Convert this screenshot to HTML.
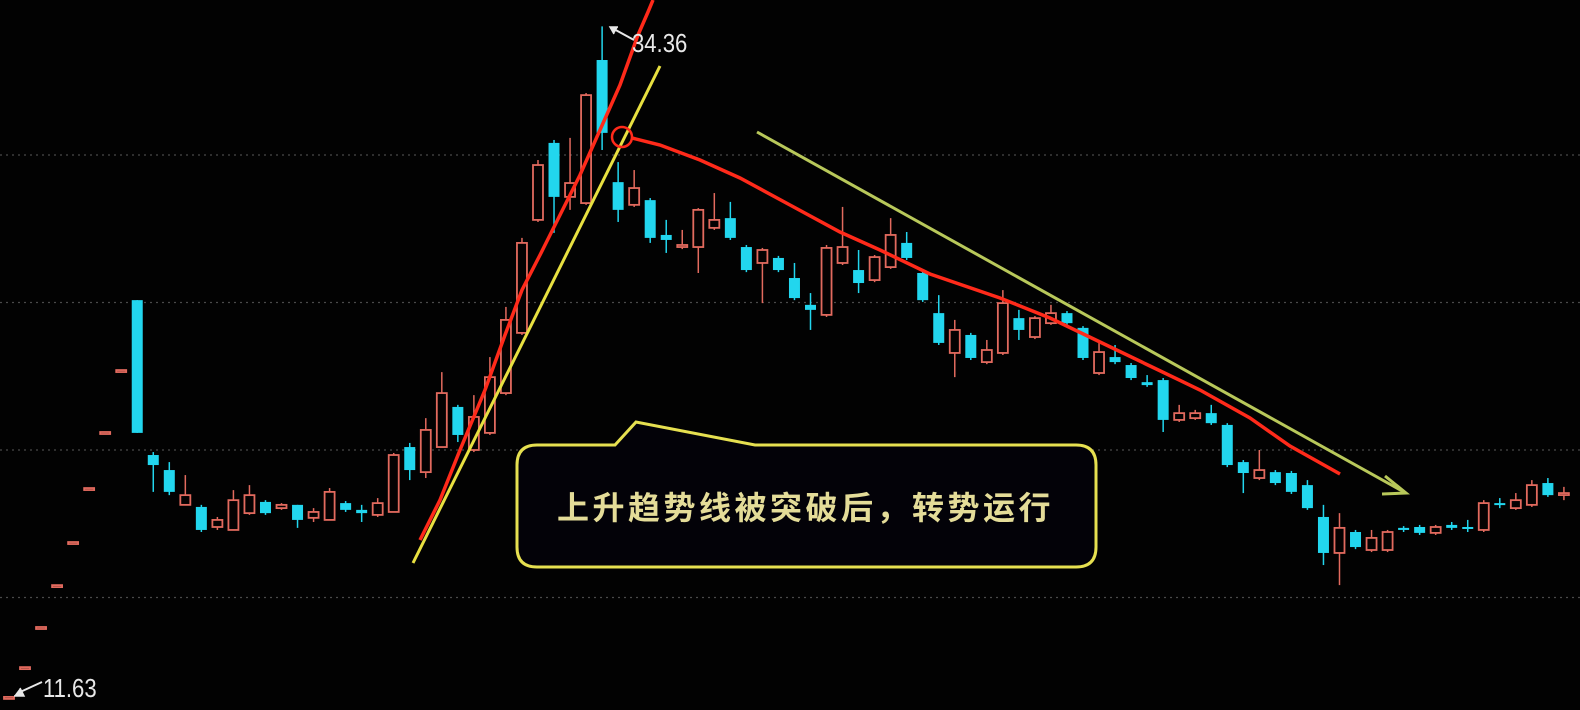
<!DOCTYPE html>
<html><head><meta charset="utf-8">
<style>
html,body{margin:0;padding:0;background:#000;}
body{width:1580px;height:710px;overflow:hidden;}
svg{display:block;}
</style></head>
<body>
<svg id="chart" width="1580" height="710" viewBox="0 0 1580 710" xmlns="http://www.w3.org/2000/svg">
<rect x="0" y="0" width="1580" height="710" fill="#020202"/>
<g id="grid"></g>
<g id="candles"></g>
<g id="overlay">
  <polyline points="420,540 440,500 460,450 485,390 505,335 522,290 540,255 560,215 580,175 600,130 620,85 638,35 648,12 653,0" fill="none" stroke="#ff2a1a" stroke-width="3.5"/>
  <line x1="413" y1="563" x2="660" y2="66" stroke="#e8e040" stroke-width="3"/>
  <circle cx="622" cy="137" r="10" fill="none" stroke="#ff2a1a" stroke-width="2.5"/>
  <polyline points="632,138 660,145 700,160 740,178 790,205 840,232 880,250 930,274 1000,298 1050,318 1100,342 1150,366 1200,390 1250,418 1290,446 1340,474" fill="none" stroke="#ff2a1a" stroke-width="3.5"/>
  <line x1="757" y1="132" x2="1404" y2="492" stroke="#b8c85a" stroke-width="3"/>
  <polyline points="1385,476 1406,493 1382,494" fill="none" stroke="#b8c85a" stroke-width="3"/>
  <path d="M537,445 L615,445 L636,422 L755,445 L1076,445 Q1096,445 1096,465 L1096,547 Q1096,567 1076,567 L537,567 Q517,567 517,547 L517,465 Q517,445 537,445 Z" fill="#030208" stroke="#e6e050" stroke-width="3"/>
  <text x="557" y="519" font-family="'Liberation Sans','Noto Sans CJK SC',sans-serif" font-size="32" font-weight="bold" letter-spacing="3.5" fill="#e4dc98">上升趋势线被突破后，转势运行</text>
  <line x1="612" y1="28" x2="634" y2="40" stroke="#e8e8e8" stroke-width="2"/>
  <polyline points="618,27 610,27 614,34" fill="#e8e8e8" stroke="#e8e8e8" stroke-width="1.5"/>
  <text x="632" y="52" font-family="'Liberation Sans Narrow','Liberation Sans',sans-serif" font-size="26" fill="#e8e8e8" transform="translate(632,52) scale(0.85,1) translate(-632,-52)">34.36</text>
  <line x1="18" y1="693" x2="42" y2="682" stroke="#e8e8e8" stroke-width="2"/>
  <polyline points="14,696 24,696 20,688" fill="#e8e8e8" stroke="#e8e8e8" stroke-width="1.5"/>
  <text x="43" y="697" font-family="'Liberation Sans Narrow','Liberation Sans',sans-serif" font-size="26" fill="#e8e8e8" transform="translate(43,697) scale(0.85,1) translate(-43,-697)">11.63</text>
</g>
</svg>
<script>
const gridPrices = [30, 25, 20, 15];
const opens  = [11.63,12.64,14.00,15.42,16.88,18.71,20.61,22.71,25.08,19.83,19.32,18.14,18.07,17.39,17.29,17.86,18.24,18.03,18.14,17.70,17.63,18.20,17.97,17.80,17.90,20.10,19.25,20.10,21.46,20.00,20.58,21.93,23.97,27.80,30.41,28.58,28.37,33.22,29.08,28.31,28.47,27.29,26.88,26.88,27.53,27.86,26.88,26.34,26.51,25.83,24.92,24.58,26.34,26.10,25.76,26.20,27.02,26.00,24.64,23.29,23.90,22.98,23.29,24.47,23.83,24.30,24.64,24.14,22.61,23.15,22.88,22.30,22.37,21.02,21.08,21.25,20.85,19.59,19.05,19.25,19.22,18.81,17.73,16.51,17.22,16.61,16.61,17.36,17.39,17.19,17.46,17.39,17.29,18.20,18.03,18.14,18.88,18.51];
const highs  = [11.63,12.64,14.00,15.42,16.88,18.71,20.61,22.71,25.08,19.93,19.59,19.15,18.14,17.73,18.64,18.81,18.30,18.20,18.14,18.03,18.71,18.27,18.14,18.37,19.90,20.24,21.08,22.64,21.53,21.86,23.15,24.85,27.19,29.83,30.51,30.58,32.10,34.36,29.76,29.49,28.54,27.80,27.46,28.20,28.71,28.41,26.95,26.85,26.58,26.34,25.32,26.95,28.24,26.78,26.61,27.86,27.39,26.07,25.25,24.41,23.97,23.73,25.42,24.75,24.54,24.92,24.71,24.20,23.73,23.56,22.95,22.54,22.44,21.53,21.36,21.53,20.91,19.66,20.00,19.32,19.29,18.98,18.14,17.86,17.29,17.29,17.29,17.42,17.46,17.46,17.56,17.63,18.30,18.37,18.54,18.98,19.05,18.75];
const lows   = [11.63,12.64,14.00,15.42,16.88,18.71,20.61,22.71,20.58,18.58,18.47,18.14,17.22,17.29,17.29,17.80,17.80,17.97,17.36,17.56,17.63,17.90,17.56,17.73,17.90,18.98,19.05,20.10,20.27,19.93,20.51,21.86,23.90,27.73,27.36,28.14,28.31,30.17,27.73,28.24,27.02,26.68,26.81,26.00,27.46,27.12,26.03,24.98,26.03,25.08,24.07,24.51,26.27,25.32,25.69,26.14,26.44,25.02,23.56,22.47,23.05,22.91,23.22,23.73,23.76,24.24,24.24,23.05,22.54,22.91,22.37,22.14,20.61,20.95,21.02,20.85,19.42,18.54,18.98,18.81,18.51,17.97,16.10,15.42,16.64,16.54,16.54,17.22,17.12,17.12,17.29,17.22,17.22,18.03,17.97,18.07,18.41,18.30];
const closes = [11.63,12.64,14.00,15.42,16.88,18.71,20.61,22.71,20.58,19.49,18.58,18.47,17.29,17.63,18.30,18.47,17.86,18.14,17.63,17.90,18.58,17.97,17.86,18.20,19.83,19.32,20.68,21.93,20.51,21.12,22.47,24.41,27.02,29.66,28.58,29.05,32.03,30.75,28.14,28.88,27.19,27.12,26.95,28.14,27.80,27.19,26.10,26.78,26.10,25.15,24.75,26.85,26.88,25.66,26.54,27.29,26.51,25.08,23.63,24.07,23.12,23.39,24.98,24.07,24.47,24.64,24.30,23.12,23.32,22.98,22.44,22.20,21.02,21.25,21.25,20.91,19.49,19.22,19.32,18.88,18.58,18.03,16.51,17.36,16.71,17.02,17.22,17.29,17.19,17.39,17.36,17.36,18.20,18.17,18.30,18.81,18.47,18.54];

const NS = 'http://www.w3.org/2000/svg';
function yScale(p){ return 155 + (30 - p) * 29.5; }
function xScale(i){ return 9 + i * 16.03; }

const gridG = document.getElementById('grid');
gridPrices.forEach(function(p){
  const ln = document.createElementNS(NS, 'line');
  
  
  ln.setAttribute('x1', 0); ln.setAttribute('x2', 1580);
  ln.setAttribute('y1', yScale(p)); ln.setAttribute('y2', yScale(p));
  ln.setAttribute('stroke', '#4a4a4a'); ln.setAttribute('stroke-width', '1.2');
  ln.setAttribute('stroke-dasharray', '2 4');
  gridG.appendChild(ln);
});

const cg = document.getElementById('candles');
const UP = '#e26a5e', DOWN = '#22d6ee';
for (let i = 0; i < opens.length; i++) {
  const o = opens[i], h = highs[i], l = lows[i], c = closes[i];
  const x = xScale(i);
  const g = document.createElementNS(NS, 'g');
  
  
  const up = c >= o;
  const col = up ? UP : DOWN;
  const wick = document.createElementNS(NS, 'line');
  
  
  wick.setAttribute('x1', x); wick.setAttribute('x2', x);
  wick.setAttribute('y1', yScale(h)); wick.setAttribute('y2', yScale(l));
  wick.setAttribute('stroke', col); wick.setAttribute('stroke-width', '1.5');
  g.appendChild(wick);
  const top = yScale(Math.max(o, c)), bot = yScale(Math.min(o, c));
  const body = document.createElementNS(NS, 'rect');
  
  
  const hgt = Math.max(bot - top, 2);
  if (up) {
    body.setAttribute('x', x - 5); body.setAttribute('y', top);
    body.setAttribute('width', 10); body.setAttribute('height', hgt);
    body.setAttribute('fill', '#050202');
    body.setAttribute('stroke', col); body.setAttribute('stroke-width', '1.8');
  } else {
    body.setAttribute('x', x - 5.5); body.setAttribute('y', top);
    body.setAttribute('width', 11); body.setAttribute('height', hgt);
    body.setAttribute('fill', col);
  }
  g.appendChild(body);
  cg.appendChild(g);
}
</script>
</body></html>
